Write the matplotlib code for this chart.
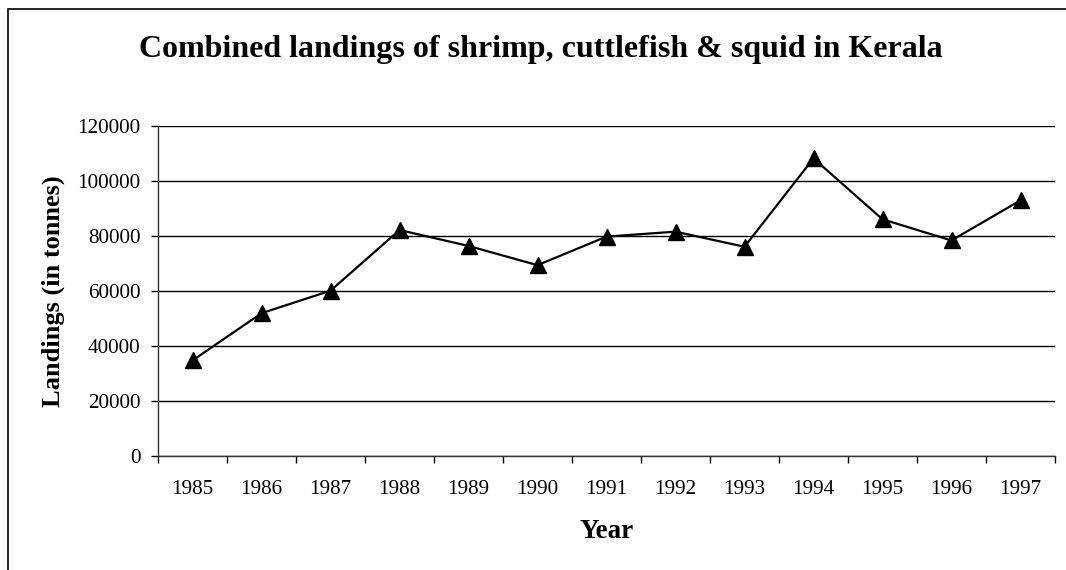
import matplotlib
matplotlib.use("Agg")
import matplotlib.pyplot as plt
from matplotlib.patches import Rectangle
from matplotlib.ticker import FixedLocator, NullFormatter

plt.rcParams['font.family'] = ['Liberation Serif', 'DejaVu Serif']

# Landings per year (tonnes)
years = ["1985", "1986", "1987", "1988", "1989", "1990", "1991",
         "1992", "1993", "1994", "1995", "1996", "1997"]
landings = [34800, 52000, 60200, 82300, 76500, 69500, 79900,
            81700, 76200, 108400, 86200, 78500, 93100]
y_ticks = [0, 20000, 40000, 60000, 80000, 100000, 120000]

fig = plt.figure(figsize=(10.66, 5.70), dpi=100)
ax = fig.add_axes([158 / 1066, 114 / 570, 897 / 1066, 329.5 / 570])

x = list(range(len(years)))
ax.plot(x, landings, color="black", linewidth=1.6, marker="^",
        markersize=11.5, markerfacecolor="black", markeredgecolor="black",
        zorder=3)

ax.set_xlim(-0.5, len(years) - 0.5)
ax.set_ylim(0, 120000)

# category boundaries get tick marks, labels sit at the centres
ax.xaxis.set_major_locator(FixedLocator([i - 0.5 for i in range(len(years) + 1)]))
ax.xaxis.set_major_formatter(NullFormatter())
ax.set_xticks(x, years, minor=True)
ax.tick_params(axis="x", which="major", direction="out", length=5, width=1)
ax.tick_params(axis="x", which="minor", length=0, pad=17.5, labelsize=15.2)

ax.set_yticks(y_ticks)
ax.set_yticklabels([str(v) for v in y_ticks])
ax.tick_params(axis="y", direction="out", length=5, width=1, pad=7.5,
               labelsize=15.2)

ax.yaxis.grid(True, color="black", linewidth=1)
ax.set_axisbelow(True)
for side in ("top", "right"):
    ax.spines[side].set_visible(False)
for side in ("left", "bottom"):
    ax.spines[side].set_color("#333333")
    ax.spines[side].set_linewidth(1)

ax.set_xlabel("Year", fontsize=19.5, fontweight="bold")
ax.xaxis.set_label_coords(0.5, -0.19)
ax.set_ylabel("Landings (in tonnes)", fontsize=19, fontweight="bold")
ax.yaxis.set_label_coords(-0.104, 0.5)

fig.text(541 / 1066, 1 - 49 / 570,
         "Combined landings of shrimp, cuttlefish & squid in Kerala",
         ha="center", va="center", fontsize=23, fontweight="bold")

# chart frame
fig.patches.append(Rectangle((8 / 1066, -0.1), 1.2, 1.1 - 9 / 570,
                             transform=fig.transFigure, fill=False,
                             edgecolor="black", linewidth=1.2))

fig.savefig("out.png", dpi=100)
